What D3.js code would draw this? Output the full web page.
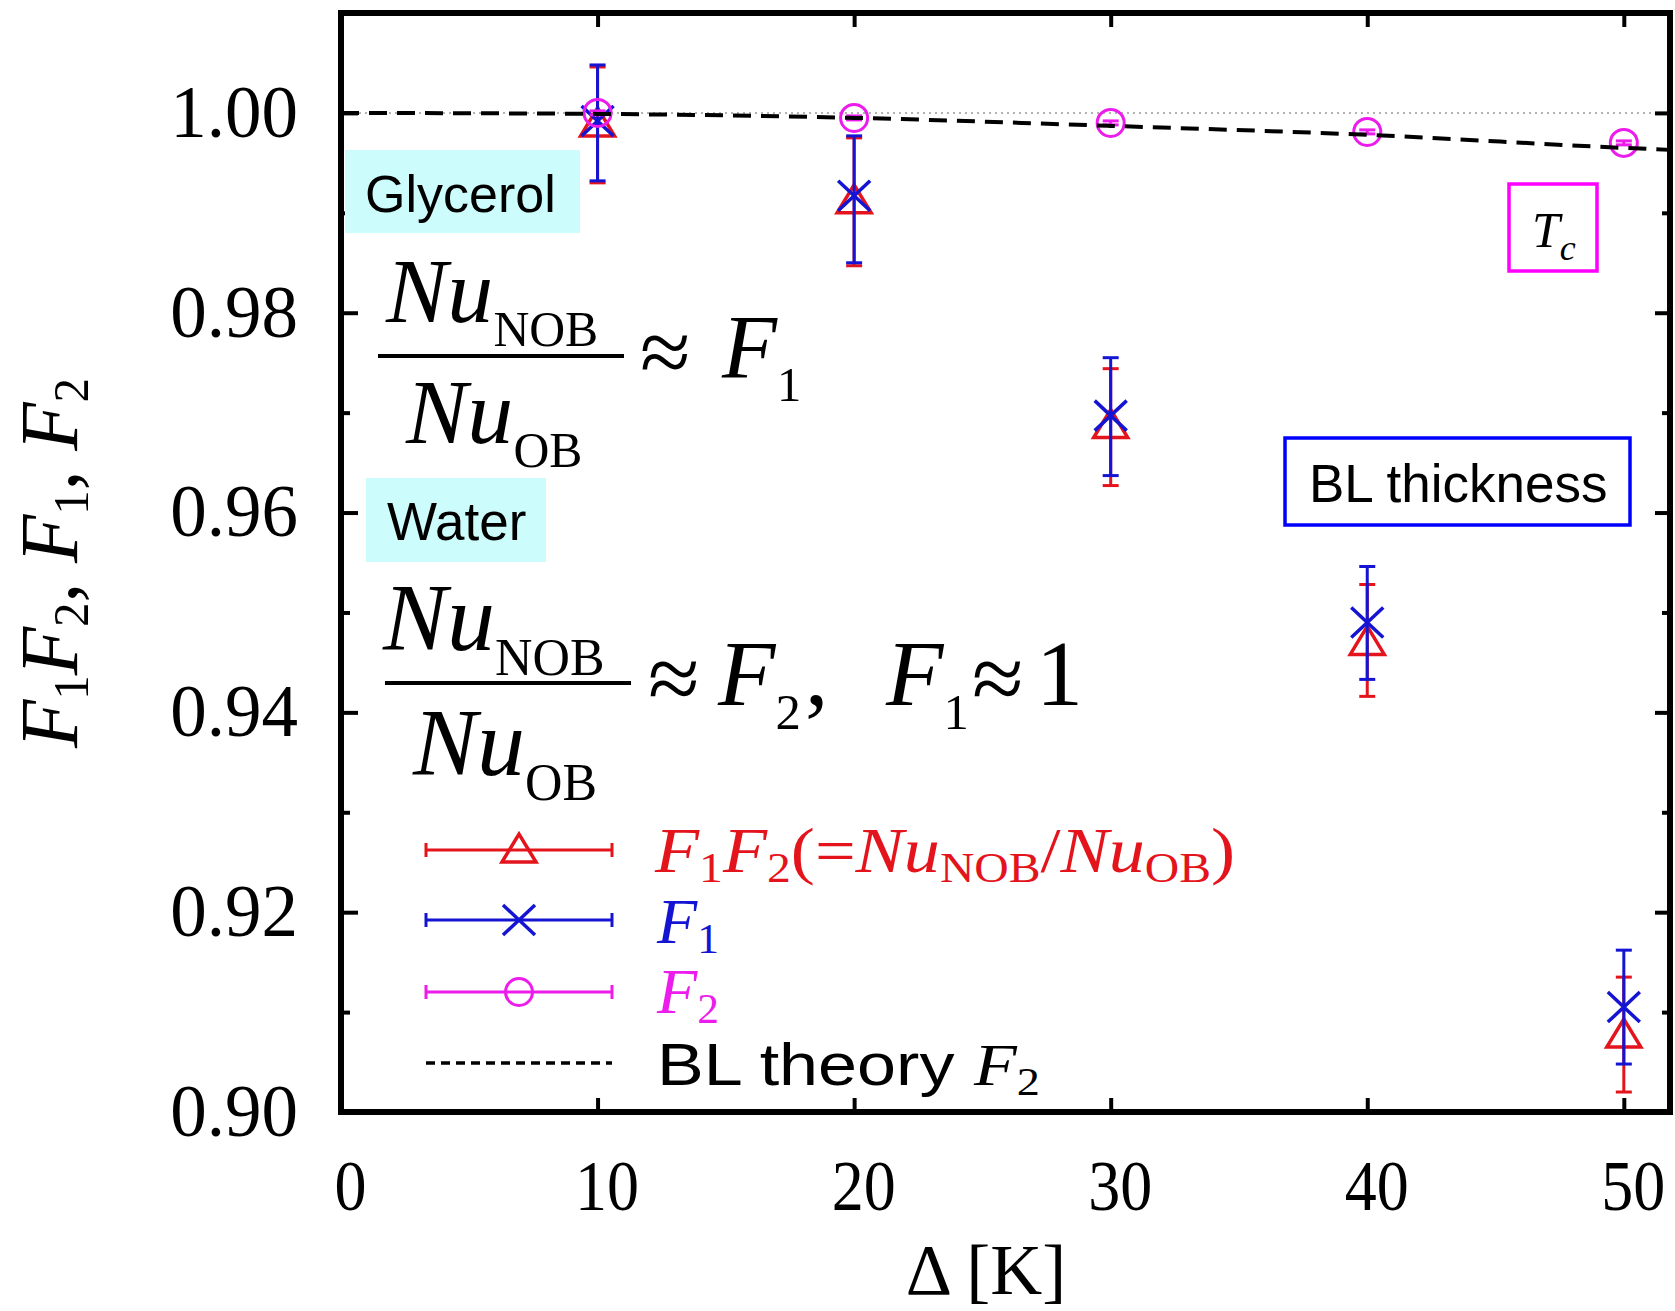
<!DOCTYPE html>
<html>
<head>
<meta charset="utf-8">
<script src="https://cdn.jsdelivr.net/npm/d3@7"></script>
<style>
  body { margin: 0; background: #fff; }
  svg { display: block; }
</style>
</head>
<body>
<svg id="chart"></svg>
<script>
// data
const deltas = [10, 20, 30, 40, 50];

const f1f2   = [0.9989, 0.9912, 0.9687, 0.9470, 0.9077];
const f1f2Lo = [0.9930, 0.9847, 0.9627, 0.9416, 0.9020];
const f1f2Hi = [1.0046, 0.9975, 0.9744, 0.9528, 0.9135];

const f1   = [0.9992, 0.9917, 0.9697, 0.9490, 0.9105];
const f1Lo = [0.9932, 0.9850, 0.9637, 0.9433, 0.9048];
const f1Hi = [1.0048, 0.9977, 0.9755, 0.9546, 0.9162];

const f2   = [1.0000, 0.9995, 0.9990, 0.9981, 0.9970];
const f2Lo = [0.9998, 0.9993, 0.9988, 0.9979, 0.9968];
const f2Hi = [1.0002, 0.9997, 0.9992, 0.9983, 0.9972];

const blDelta = [0, 10, 20, 30, 40, 50, 51.8];
const blF2    = [1.0000, 0.9999, 0.9995, 0.9987, 0.9978, 0.9965, 0.9963];

const xTicks = [0, 10, 20, 30, 40, 50];
const yTicks = [0.90, 0.92, 0.94, 0.96, 0.98, 1.00];
const yMinor = [0.91, 0.93, 0.95, 0.97, 0.99];

const width = 1675, height = 1311;
const margin = {top: 13, right: 5, bottom: 199, left: 341};

const serif = "'Liberation Serif', 'Times New Roman', serif";
const sans = "'Liberation Sans', Arial, sans-serif";
const RED = "#e4141c", BLUE = "#1414d2", MAG = "#ec1cec";

const svg = d3.select("#chart").attr("width", width).attr("height", height);

const x = d3.scaleLinear().domain([0, 51.8]).range([margin.left, width - margin.right]);
const y = d3.scaleLinear().domain([0.90, 1.01]).range([height - margin.bottom, margin.top]);

// reference line at 1.00 (dotted)
svg.append("line")
    .attr("x1", x(0)).attr("x2", x(51.8))
    .attr("y1", y(1)).attr("y2", y(1))
    .attr("stroke", "#999").attr("stroke-width", 1.5)
    .attr("stroke-dasharray", "2,4");

// axes
const tickStyle = g => {
  g.select(".domain").remove();
  g.selectAll(".tick line").attr("stroke", "#000").attr("stroke-width", 4);
  g.selectAll(".tick text").attr("fill", "#000");
};

svg.append("g")
    .attr("transform", `translate(0,${y(0.90)})`)
    .call(d3.axisBottom(x).tickValues(xTicks).tickSize(-14).tickPadding(47).tickFormat(d3.format("d")))
    .attr("font-family", serif).attr("font-size", 72)
    .call(tickStyle)
    .call(g => g.selectAll("text")
        .attr("dx", 9)
        .attr("textLength", d => String(d).length * 32)
        .attr("lengthAdjust", "spacingAndGlyphs"));

svg.append("g")
    .attr("transform", `translate(0,${y(1.01)})`)
    .call(d3.axisTop(x).tickValues(xTicks.slice(1)).tickSize(-14).tickFormat(""))
    .call(tickStyle);

svg.append("g")
    .attr("transform", `translate(${x(0)},0)`)
    .call(d3.axisLeft(y).tickValues(yTicks).tickSize(-17).tickPadding(43).tickFormat(d3.format(".2f")))
    .attr("font-family", serif).attr("font-size", 73)
    .call(tickStyle);

svg.append("g")
    .attr("transform", `translate(${x(0)},0)`)
    .call(d3.axisLeft(y).tickValues(yMinor).tickSize(-9).tickFormat(""))
    .call(tickStyle);

svg.append("g")
    .attr("transform", `translate(${x(51.8)},0)`)
    .call(d3.axisRight(y).tickValues(yTicks).tickSize(-15).tickFormat(""))
    .call(tickStyle);

svg.append("g")
    .attr("transform", `translate(${x(51.8)},0)`)
    .call(d3.axisRight(y).tickValues(yMinor).tickSize(-8).tickFormat(""))
    .call(tickStyle);

// rich text helper: parts with italic / subscript
function rich(parent, parts, size, color, subScale = 0.7, subShift = 0.16) {
  const t = parent.append("text")
      .attr("font-family", serif).attr("font-size", size).attr("fill", color);
  let shift = 0;
  parts.forEach(p => {
    const s = p.sub ? size * subShift : 0;
    t.append("tspan")
        .text(p.t)
        .attr("font-family", p.sans ? sans : serif)
        .attr("font-style", p.it ? "italic" : "normal")
        .attr("font-size", p.sub ? size * subScale : size)
        .attr("dy", s - shift);
    shift = s;
  });
  return t;
}

function fit(textSel, w) {
  const len = textSel.node().getComputedTextLength();
  textSel.attr("transform", `scale(${w / len},1)`);
}

// axis titles
const yTitle = svg.append("g").attr("transform", "translate(77,563) rotate(-90)");
const yt = rich(yTitle, [
  {t: "F", it: true}, {t: "1", sub: true}, {t: "F", it: true}, {t: "2", sub: true}, {t: ", "},
  {t: "F", it: true}, {t: "1", sub: true}, {t: ", "},
  {t: "F", it: true}, {t: "2", sub: true}
], 82, "#000", 0.62, 0.14).attr("text-anchor", "middle");
fit(yt, 370);

svg.append("text")
    .attr("x", 986).attr("y", 1294)
    .attr("text-anchor", "middle")
    .attr("font-family", serif).attr("font-size", 72)
    .text("Δ [K]");

// series drawing
const series = [
  {name: "f1f2", v: f1f2, lo: f1f2Lo, hi: f1f2Hi, color: RED, mark: "tri"},
  {name: "f1", v: f1, lo: f1Lo, hi: f1Hi, color: BLUE, mark: "x"},
  {name: "f2", v: f2, lo: f2Lo, hi: f2Hi, color: MAG, mark: "circ"}
];

function marker(g, type, color) {
  if (type === "tri") {
    g.append("path").attr("d", "M-17,12L17,12L0,-16Z")
        .attr("fill", "none").attr("stroke", color).attr("stroke-width", 3.5);
  } else if (type === "x") {
    g.append("path").attr("d", "M-16,-15L16,15M-16,15L16,-15")
        .attr("fill", "none").attr("stroke", color).attr("stroke-width", 3.5);
  } else {
    g.append("circle").attr("r", 13.5)
        .attr("fill", "none").attr("stroke", color).attr("stroke-width", 3);
  }
}

series.forEach(s => {
  const pts = deltas.map((d, i) => ({d, v: s.v[i], lo: s.lo[i], hi: s.hi[i]}));
  const g = svg.append("g").attr("class", s.name);
  const eb = g.selectAll(".eb").data(pts).join("g")
      .attr("stroke", s.color).attr("stroke-width", 3);
  eb.append("line")
      .attr("x1", p => x(p.d)).attr("x2", p => x(p.d))
      .attr("y1", p => y(p.lo)).attr("y2", p => y(p.hi));
  eb.append("line")
      .attr("x1", p => x(p.d) - 8).attr("x2", p => x(p.d) + 8)
      .attr("y1", p => y(p.lo)).attr("y2", p => y(p.lo));
  eb.append("line")
      .attr("x1", p => x(p.d) - 8).attr("x2", p => x(p.d) + 8)
      .attr("y1", p => y(p.hi)).attr("y2", p => y(p.hi));
  g.selectAll(".mk").data(pts).join("g")
      .attr("transform", p => `translate(${x(p.d)},${y(p.v)})`)
      .each(function () { marker(d3.select(this), s.mark, s.color); });
});

// BL theory F2
const bl = blDelta.map((d, i) => [d, blF2[i]]);
svg.append("path")
    .datum(bl)
    .attr("fill", "none").attr("stroke", "#000").attr("stroke-width", 4)
    .attr("stroke-dasharray", "18,10")
    .attr("d", d3.line().x(d => x(d[0])).y(d => y(d[1])).curve(d3.curveMonotoneX));

// frame
svg.append("rect")
    .attr("x", x(0)).attr("y", y(1.01))
    .attr("width", x(51.8) - x(0)).attr("height", y(0.90) - y(1.01))
    .attr("fill", "none").attr("stroke", "#000").attr("stroke-width", 6);

// legend
const legendRows = [
  {mark: "tri", color: RED, y: 850, dash: null},
  {mark: "x", color: BLUE, y: 920, dash: null},
  {mark: "circ", color: MAG, y: 992, dash: null},
  {mark: null, color: "#000", y: 1063, dash: "9,6"}
];
legendRows.forEach(r => {
  const g = svg.append("g").attr("transform", `translate(0,${r.y})`);
  g.append("line").attr("x1", 426).attr("x2", 612).attr("y1", 0).attr("y2", 0)
      .attr("stroke", r.color).attr("stroke-width", r.dash ? 3.5 : 3)
      .attr("stroke-dasharray", r.dash);
  if (r.mark) {
    [426, 612].forEach(cx => g.append("line")
        .attr("x1", cx).attr("x2", cx).attr("y1", -7).attr("y2", 7)
        .attr("stroke", r.color).attr("stroke-width", 3));
    const m = g.append("g").attr("transform", "translate(519,0)");
    marker(m, r.mark, r.color);
  }
});

const lg1 = svg.append("g").attr("transform", "translate(655,872)");
fit(rich(lg1, [
  {t: "F", it: true}, {t: "1", sub: true}, {t: "F", it: true}, {t: "2", sub: true},
  {t: "(="}, {t: "Nu", it: true}, {t: "NOB", sub: true}, {t: "/"},
  {t: "Nu", it: true}, {t: "OB", sub: true}, {t: ")"}
], 64, RED, 0.66, 0.16), 580);

const lg2 = svg.append("g").attr("transform", "translate(657,943)");
fit(rich(lg2, [{t: "F", it: true}, {t: "1", sub: true}], 64, BLUE, 0.66, 0.16), 62);

const lg3 = svg.append("g").attr("transform", "translate(657,1013)");
fit(rich(lg3, [{t: "F", it: true}, {t: "2", sub: true}], 64, MAG, 0.66, 0.16), 62);

const lg4 = svg.append("g").attr("transform", "translate(657,1085)");
fit(rich(lg4, [{t: "BL theory ", sans: true}, {t: "F", it: true}, {t: "2", sub: true}], 60, "#000", 0.66, 0.16), 383);

// annotation boxes
function labelBox(x0, y0, w, h, fill, stroke) {
  svg.append("rect").attr("x", x0).attr("y", y0).attr("width", w).attr("height", h)
      .attr("fill", fill).attr("stroke", stroke || "none").attr("stroke-width", 3.5);
}
labelBox(345, 150, 235, 83, "#ccfcfc");
svg.append("text").attr("x", 365).attr("y", 212)
    .attr("font-family", sans).attr("font-size", 52).text("Glycerol");

labelBox(366, 478, 180, 84, "#ccfcfc");
svg.append("text").attr("x", 387).attr("y", 540)
    .attr("font-family", sans).attr("font-size", 53).text("Water");

labelBox(1285, 438, 345, 87, "none", "#0000ff");
svg.append("text").attr("x", 1309).attr("y", 502)
    .attr("font-family", sans).attr("font-size", 53).text("BL thickness");

labelBox(1509, 184, 88, 87, "none", "#ff00ff");
svg.append("g").attr("transform", "translate(1532,247)")
    .call(g => rich(g, [{t: "T", it: true}, {t: "c", it: true, sub: true}], 50, "#000", 0.72, 0.26));

// formula pieces
function piece(txt, px, py, size, italic) {
  svg.append("text").attr("x", px).attr("y", py)
      .attr("font-family", serif).attr("font-size", size)
      .attr("font-style", italic ? "italic" : "normal").text(txt);
}
function subPiece(main, sub, px, py, size) {
  svg.append("g").attr("transform", `translate(${px},${py})`)
      .call(g => rich(g, [{t: main, it: true}, {t: sub, sub: true}], size, "#000", 0.54, 0.26));
}
function bar(x1, x2, yy) {
  svg.append("line").attr("x1", x1).attr("x2", x2).attr("y1", yy).attr("y2", yy)
      .attr("stroke", "#000").attr("stroke-width", 4);
}

// Nu_NOB / Nu_OB ≈ F1
subPiece("Nu", "NOB", 386, 322, 92);
bar(378, 624, 356);
subPiece("Nu", "OB", 406, 443, 92);
piece("≈", 640, 383, 92, false);
subPiece("F", "1", 722, 378, 90);

// Nu_NOB / Nu_OB ≈ F2,  F1 ≈ 1
subPiece("Nu", "NOB", 383, 650, 96);
bar(385, 631, 683);
subPiece("Nu", "OB", 413, 775, 96);
piece("≈", 648, 710, 94, false);
subPiece("F", "2", 718, 705, 94);
piece(",", 805, 705, 94, false);
subPiece("F", "1", 886, 705, 94);
piece("≈", 972, 710, 94, false);
piece("1", 1036, 705, 94, false);
</script>
</body>
</html>
